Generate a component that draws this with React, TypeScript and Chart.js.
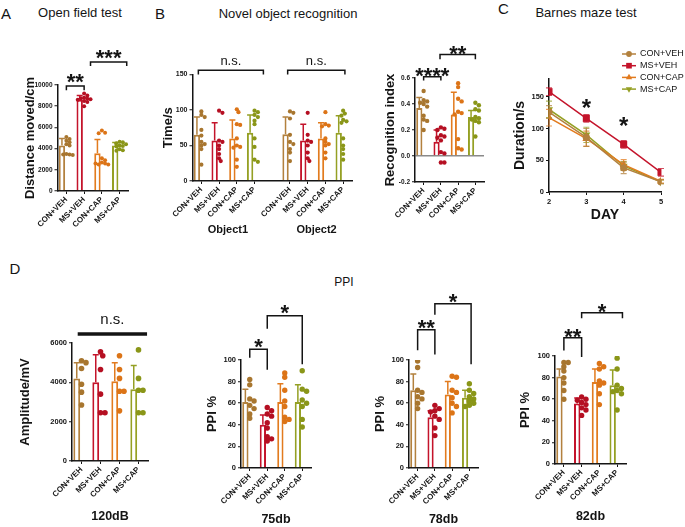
import React, { useEffect, useRef } from "react";
import { Chart, registerables } from "chart.js";

Chart.register(...registerables);

const FONT = 'Arial, "Liberation Sans", Helvetica, sans-serif';
const INK = "#141414";
Chart.defaults.font.family = FONT;
Chart.defaults.color = INK;

/* ====================== DATA ====================== */
const groups = ["CON+VEH", "MS+VEH", "CON+CAP", "MS+CAP"];
const barColors = ["#B3813E", "#C4142B", "#E27B1E", "#95A024"];
const dotColors = ["#A8762F", "#B50F22", "#DC7417", "#8A9618"];

// A — Open field test
const openFieldMean = [4300, 8600, 3550, 4300];
const openFieldSD = [650, 420, 1320, 280];
const openFieldPoints = [
  [5100, 4900, 4750, 4600, 4400, 4300, 3500, 3450, 3450, 3400],
  [9200, 9000, 8800, 8750, 8700, 8650, 8600, 8500, 8400, 8000],
  [5700, 5500, 5450, 3100, 2900, 2700, 2600, 2500, 2500, 2600],
  [4650, 4600, 4500, 4400, 4300, 4250, 4200, 3950, 3850, 3800],
];
const openFieldBrackets = [
  { from: 0, to: 1, y: 9900, legFrom: 9500, legTo: 9500, label: "**" },
  { from: 1.36, to: 3.4, y: 12170, legFrom: 11790, legTo: 11790, label: "***" },
];

// B — Novel object recognition (Time/s)
const objectLabels = [...groups, "", ...groups];
const objectMean = [65, 57, 60, 68, null, 66, 57, 60, 68];
const objectSD = [25, 25, 26, 25, null, 24, 23, 22, 24];
const objectPoints = [
  [98, 93, 90, 72, 64, 55, 52, 50, 45, 23],
  [99, 96, 57, 55, 50, 45, 38, 32, 28],
  [101, 97, 80, 79, 60, 50, 48, 47, 30, 20],
  [99, 97, 93, 90, 85, 80, 60, 48, 30, 27],
  [],
  [98, 96, 88, 65, 55, 52, 45, 40, 28],
  [96, 65, 57, 55, 50, 40, 32, 28],
  [97, 80, 78, 77, 60, 55, 52, 50, 40, 32],
  [99, 95, 92, 86, 84, 82, 60, 50, 45, 38, 30],
];
const objectGroupTitles = [
  { at: 1.5, text: "Object1" },
  { at: 6.5, text: "Object2" },
];
const objectBrackets = [
  { from: -0.17, to: 3.5, y: 156, legFrom: 150, legTo: 150, label: "n.s." },
  { from: 4.87, to: 8.1, y: 156, legFrom: 150, legTo: 150, label: "n.s." },
];

// B — Recognition index
const recogMean = [0.37, 0.11, 0.32, 0.3];
const recogSD = [0.08, 0.09, 0.17, 0.05];
const recogPoints = [
  [0.5, 0.43, 0.42, 0.41, 0.4, 0.38, 0.31, 0.28, 0.27, 0.2],
  [0.22, 0.21, 0.2, 0.16, 0.15, 0.14, 0.12, 0.03, 0.02, -0.05, -0.05],
  [0.56, 0.53, 0.44, 0.42, 0.34, 0.33, 0.32, 0.13, 0.06, 0.05],
  [0.41, 0.39, 0.36, 0.35, 0.3, 0.29, 0.28, 0.27, 0.26, 0.15],
];
const recogBrackets = [
  { from: 0, to: 1, y: 0.61, legFrom: 0.58, legTo: 0.58, label: "****" },
  { from: 0.95, to: 3, y: 0.78, legFrom: 0.745, legTo: 0.745, label: "**" },
];

// C — Barnes maze test
const days = [2, 3, 4, 5];
const barnesMean = [
  [126, 86, 38, 16],
  [158, 116, 75, 31],
  [117, 84, 43, 17],
  [130, 90, 41, 16],
];
const barnesSD = [
  [10, 14, 9, 3],
  [6, 6, 6, 6],
  [13, 12, 8, 3],
  [13, 12, 7, 3],
];
const barnesStars = [
  { x: 3, y: 142, label: "*" },
  { x: 4, y: 114, label: "*" },
];

// D — PPI
const ppi120Mean = [4200, 4000, 4050, 3650];
const ppi120SD = [800, 1400, 950, 1200];
const ppi120Points = [
  [5100, 5000, 4700, 3900, 3500, 2850],
  [5550, 5350, 4650, 3400, 2450, 2450],
  [5350, 4650, 4200, 3550, 3550, 2550],
  [5650, 4200, 3600, 3600, 2450, 2450],
];
const ppi120Brackets = [{ from: -0.2, to: 3.45, y: 6460, legFrom: 6460, legTo: 6460, label: "n.s." }];

const ppi75Mean = [61, 40, 61, 61];
const ppi75SD = [12, 9, 17, 16];
const ppi75Points = [
  [82, 77, 64, 62, 58, 55, 50, 46],
  [56, 53, 50, 48, 42, 37, 29, 27, 25],
  [88, 84, 72, 62, 57, 47, 45, 43],
  [90, 73, 71, 63, 60, 57, 45, 38],
];
const ppi75Brackets = [
  { from: 0, to: 1, y: 110, legFrom: 102, legTo: 91, label: "*" },
  { from: 1, to: 3, y: 141, legFrom: 129, legTo: 96, label: "*" },
];

const ppi78Mean = [72, 47, 68, 65];
const ppi78SD = [15, 6, 12, 7];
const ppi78Points = [
  [99, 93, 72, 70, 66, 64, 60, 55],
  [58, 55, 53, 52, 48, 45, 37, 30],
  [85, 84, 72, 70, 65, 60, 57, 51],
  [78, 72, 69, 66, 64, 62, 60, 58, 57],
];
const ppi78Brackets = [
  { from: 0, to: 1, y: 128, legFrom: 109, legTo: 105, label: "**" },
  { from: 1, to: 3.1, y: 152, legFrom: 142, legTo: 96, label: "*" },
];

const ppi82Mean = [81, 56, 76, 73];
const ppi82SD = [7, 5, 12, 14];
const ppi82Points = [
  [94, 94, 90, 86, 80, 75, 68, 60],
  [62, 60, 59, 57, 55, 52, 50, 45],
  [93, 90, 88, 77, 75, 73, 65, 55],
  [98, 88, 73, 70, 68, 67, 65, 50],
];
const ppi82Brackets = [
  { from: 0, to: 1, y: 117, legFrom: 105, legTo: 99, label: "**" },
  { from: 1, to: 3.3, y: 140, legFrom: 135, legTo: 135, label: "*" },
];

/* ====================== HELPERS ====================== */
type Box = { x: number; y: number; w: number; h: number };
type Plot = { l: number; t: number; r: number; b: number };
type Bracket = { from: number; to: number; y: number; legFrom: number; legTo: number; label: string };
type Mark = { x: number; y: number; label: string };

// compact bee-swarm: horizontal pixel offsets so that dots overlap only a little
function swarm(vals: number[], pxPerUnit: number, r: number): number[] {
  const placed: [number, number][] = [];
  const minD = 1.55 * r;
  const step = 0.8 * r;
  return vals.map((v) => {
    const y = v * pxPerUnit;
    let off = 0;
    for (let k = 0; k < 60; k++) {
      const c = k === 0 ? 0 : (k % 2 ? 1 : -1) * Math.ceil(k / 2) * step;
      if (placed.every(([px, py]) => Math.hypot(px - c, py - y) >= minD)) {
        off = c;
        break;
      }
    }
    placed.push([off, y]);
    return off;
  });
}

function errPlugin(sd: (number | null)[][], width: number, cap: number, before: boolean, upperOnly: boolean, alpha = 1) {
  const draw = (chart: any, args: any) => {
    const s = sd[args.index];
    if (!s) return;
    const meta = args.meta;
    const ys = chart.scales[meta.yAxisID];
    const ds = chart.data.datasets[args.index];
    const ctx = chart.ctx;
    ctx.save();
    ctx.lineWidth = width;
    ctx.globalAlpha = alpha;
    meta.data.forEach((el: any, j: number) => {
      const p = meta.controller.getParsed(j);
      const e = s[j];
      if (!p || p.y == null || isNaN(p.y) || e == null) return;
      const col = Array.isArray(ds.borderColor) ? ds.borderColor[j] : ds.borderColor;
      const x = el.x;
      const y1 = ys.getPixelForValue(p.y + e);
      const y0 = upperOnly ? ys.getPixelForValue(p.y) : ys.getPixelForValue(p.y - e);
      ctx.strokeStyle = col;
      ctx.beginPath();
      ctx.moveTo(x, y0);
      ctx.lineTo(x, y1);
      ctx.moveTo(x - cap, y1);
      ctx.lineTo(x + cap, y1);
      if (!upperOnly) {
        ctx.moveTo(x - cap, y0);
        ctx.lineTo(x + cap, y0);
      }
      ctx.stroke();
    });
    ctx.restore();
  };
  return {
    id: "errs",
    beforeDatasetDraw(chart: any, args: any) {
      if (before) draw(chart, args);
    },
    afterDatasetDraw(chart: any, args: any) {
      if (!before) draw(chart, args);
    },
  };
}

type SigStyle = {
  xAxis: string;
  lineWidth: number;
  starSize: number;
  starGap: number;
  textSize: number;
  textGap: number;
  groupSize?: number;
  groupOffset?: number;
};

function sigPlugin(brackets: Bracket[], marks: Mark[], groupTitles: { at: number; text: string }[], st: SigStyle) {
  const label = (ctx: any, text: string, x: number, cy: number) => {
    const star = text.startsWith("*");
    const size = star ? st.starSize : st.textSize;
    ctx.font = `${star ? "bold " : ""}${size}px ${FONT}`;
    ctx.textAlign = "center";
    ctx.textBaseline = "alphabetic";
    ctx.fillText(text, x, cy + (star ? 0.6 : 0.27) * size);
  };
  return {
    id: "sig",
    afterDraw(chart: any) {
      const xs = chart.scales[st.xAxis];
      const ys = chart.scales.y;
      const ctx = chart.ctx;
      ctx.save();
      ctx.strokeStyle = INK;
      ctx.fillStyle = INK;
      ctx.lineWidth = st.lineWidth;
      ctx.lineCap = "butt";
      ctx.lineJoin = "miter";
      brackets.forEach((b) => {
        const x1 = xs.getPixelForValue(b.from);
        const x2 = xs.getPixelForValue(b.to);
        const y = ys.getPixelForValue(b.y);
        ctx.beginPath();
        ctx.moveTo(x1, ys.getPixelForValue(b.legFrom));
        ctx.lineTo(x1, y);
        ctx.lineTo(x2, y);
        ctx.lineTo(x2, ys.getPixelForValue(b.legTo));
        ctx.stroke();
        const gap = b.label.startsWith("*") ? st.starGap : st.textGap;
        label(ctx, b.label, (x1 + x2) / 2, y - gap);
      });
      marks.forEach((m) => label(ctx, m.label, xs.getPixelForValue(m.x), ys.getPixelForValue(m.y)));
      groupTitles.forEach((g) => {
        ctx.font = `bold ${st.groupSize}px ${FONT}`;
        ctx.textAlign = "center";
        ctx.textBaseline = "middle";
        ctx.fillText(g.text, xs.getPixelForValue(g.at), chart.chartArea.bottom + (st.groupOffset || 0));
      });
      ctx.restore();
    },
  };
}

function frame(box: Box, plot: Plot, yTitleX: number, yTitleSize: number, xTitleY?: number, xTitleSize?: number) {
  const lhY = yTitleSize * 1.2;
  const padLeft = yTitleX - lhY / 2 - box.x;
  const yWidth = plot.l - box.x - padLeft;
  const padTop = plot.t - box.y;
  const padRight = box.x + box.w - plot.r;
  let xHeight = box.y + box.h - plot.b;
  let padBottom = 0;
  if (xTitleY != null && xTitleSize != null) {
    const sb = xTitleY + (xTitleSize * 1.2) / 2;
    xHeight = sb - plot.b;
    padBottom = box.y + box.h - sb;
  }
  return { padding: { left: padLeft, top: padTop, right: padRight, bottom: padBottom }, yWidth, xHeight };
}

interface BarSpec {
  labels: string[];
  means: (number | null)[];
  sds: (number | null)[];
  points: number[][];
  yMin: number;
  yMax: number;
  yStep: number;
  decimals: number;
  yTitle: string;
  xTitle?: string;
  brackets: Bracket[];
  groupTitles?: { at: number; text: string }[];
  zeroLine?: boolean;
  box: Box;
  plot: Plot;
  yTitleX: number;
  yTitleSize: number;
  xTitleY?: number;
  xTitleSize?: number;
  tickSize: number;
  catSize: number;
  dotR: number;
  sig: SigStyle;
}

function buildBar(canvas: HTMLCanvasElement, s: BarSpec): Chart {
  const f = frame(s.box, s.plot, s.yTitleX, s.yTitleSize, s.xTitle ? s.xTitleY : undefined, s.xTitle ? s.xTitleSize : undefined);
  const n = s.labels.length;
  const unitPx = (s.plot.r - s.plot.l) / n;
  const pxPerY = (s.plot.b - s.plot.t) / (s.yMax - s.yMin);
  const colors = s.labels.map((l) => barColors[groups.indexOf(l)] || "#000");
  const dcols = s.labels.map((l) => dotColors[groups.indexOf(l)] || "#000");
  const dots: { x: number; y: number }[] = [];
  const dotCols: string[] = [];
  s.points.forEach((vals, i) => {
    const offs = swarm(vals, pxPerY, s.dotR);
    vals.forEach((v, k) => {
      dots.push({ x: i + offs[k] / unitPx, y: v });
      dotCols.push(dcols[i]);
    });
  });
  const cfg: any = {
    type: "bar",
    data: {
      labels: s.labels,
      datasets: [
        {
          type: "bar",
          data: s.means,
          backgroundColor: "#ffffff",
          borderColor: colors,
          borderWidth: 2,
          barPercentage: 0.72,
          categoryPercentage: 1,
          order: 2,
          xAxisID: "x",
          yAxisID: "y",
        },
        {
          type: "scatter",
          data: dots,
          xAxisID: "xd",
          yAxisID: "y",
          pointRadius: s.dotR,
          pointHoverRadius: s.dotR,
          pointBackgroundColor: dotCols,
          pointBorderColor: dotCols,
          pointBorderWidth: 0,
          showLine: false,
          order: 1,
        },
      ],
    },
    options: {
      responsive: false,
      animation: false,
      events: [],
      layout: { padding: f.padding },
      plugins: { legend: { display: false }, tooltip: { enabled: false } },
      scales: {
        x: {
          type: "category",
          offset: true,
          grid: {
            display: true,
            offset: false,
            drawOnChartArea: false,
            tickLength: 3,
            tickWidth: 1,
            tickColor: (c: any) => (s.labels[c.index] ? INK : "rgba(0,0,0,0)"),
          },
          border: { display: true, color: INK, width: 1.5 },
          ticks: {
            autoSkip: false,
            maxRotation: 45,
            minRotation: 45,
            padding: 1,
            color: INK,
            font: { family: FONT, size: s.catSize, weight: "bold" },
          },
          title: s.xTitle
            ? { display: true, text: s.xTitle, color: INK, padding: 0, font: { family: FONT, size: s.xTitleSize, weight: "bold" } }
            : { display: false },
          afterFit: (sc: any) => {
            sc.height = f.xHeight;
          },
        },
        xd: {
          type: "linear",
          display: false,
          offset: false,
          bounds: "data",
          min: -0.5,
          max: n - 0.5,
          afterBuildTicks: (sc: any) => {
            sc.min = -0.5;
            sc.max = n - 0.5;
          },
        },
        y: {
          type: "linear",
          min: s.yMin,
          max: s.yMax,
          grid: {
            display: true,
            drawOnChartArea: !!s.zeroLine,
            color: (c: any) => (c.tick && Math.abs(c.tick.value) < 1e-9 ? "#8a8a8a" : "rgba(0,0,0,0)"),
            lineWidth: 1.5,
            tickLength: 3,
            tickWidth: 1,
            tickColor: INK,
          },
          border: { display: true, color: INK, width: 1.5 },
          ticks: {
            stepSize: s.yStep,
            padding: 2,
            color: INK,
            font: { family: FONT, size: s.tickSize, weight: "bold" },
            callback: (v: any) => Number(v).toFixed(s.decimals),
          },
          title: { display: true, text: s.yTitle, color: INK, padding: 0, font: { family: FONT, size: s.yTitleSize, weight: "bold" } },
          afterFit: (sc: any) => {
            sc.width = f.yWidth;
          },
        },
      },
    },
    plugins: [errPlugin([s.sds], 1.5, 3, false, true), sigPlugin(s.brackets, [], s.groupTitles || [], s.sig)],
  };
  return new Chart(canvas, cfg);
}

const seriesStyles = [
  { style: "circle", rot: 0, r: 3.6 },
  { style: "rect", rot: 0, r: 5 },
  { style: "triangle", rot: 0, r: 4.6 },
  { style: "triangle", rot: 180, r: 4.6 },
];

function drawMarker(ctx: any, style: string, rot: number, x: number, y: number, r: number) {
  ctx.beginPath();
  if (style === "circle") ctx.arc(x, y, r, 0, Math.PI * 2);
  else if (style === "rect") {
    const h = r * Math.SQRT1_2;
    ctx.rect(x - h, y - h, 2 * h, 2 * h);
  } else {
    let a = (rot * Math.PI) / 180;
    ctx.moveTo(x + Math.sin(a) * r, y - Math.cos(a) * r);
    a += (2 * Math.PI) / 3;
    ctx.lineTo(x + Math.sin(a) * r, y - Math.cos(a) * r);
    a += (2 * Math.PI) / 3;
    ctx.lineTo(x + Math.sin(a) * r, y - Math.cos(a) * r);
    ctx.closePath();
  }
  ctx.fill();
}

function buildBarnes(canvas: HTMLCanvasElement): Chart {
  const box = { x: 498, y: 40, w: 187, h: 187 };
  const plot = { l: 549, t: 79, r: 661, b: 192 };
  const f = frame(box, plot, 520, 14, 215, 14);
  const lg = { x1: 622 - box.x, x2: 636 - box.x, tx: 640 - box.x, y0: 54 - box.y, step: 11.7, size: 9 };
  const legendPlugin = {
    id: "lgd",
    afterDraw(chart: any) {
      const ctx = chart.ctx;
      ctx.save();
      chart.data.datasets.forEach((ds: any, k: number) => {
        const y = lg.y0 + k * lg.step;
        ctx.strokeStyle = ds.borderColor;
        ctx.fillStyle = ds.borderColor;
        ctx.lineWidth = 1.5;
        ctx.beginPath();
        ctx.moveTo(lg.x1, y);
        ctx.lineTo(lg.x2, y);
        ctx.stroke();
        const st = seriesStyles[k];
        drawMarker(ctx, st.style, st.rot, (lg.x1 + lg.x2) / 2, y, st.r * 0.8);
        ctx.fillStyle = INK;
        ctx.font = `${lg.size}px ${FONT}`;
        ctx.textAlign = "left";
        ctx.textBaseline = "middle";
        ctx.fillText(ds.label, lg.tx, y);
      });
      ctx.restore();
    },
  };
  const cfg: any = {
    type: "line",
    data: {
      datasets: groups.map((name, k) => ({
        label: name,
        data: days.map((d, j) => ({ x: d, y: barnesMean[k][j] })),
        borderColor: barColors[k],
        backgroundColor: barColors[k],
        pointBackgroundColor: barColors[k],
        pointBorderColor: barColors[k],
        pointStyle: seriesStyles[k].style,
        pointRotation: seriesStyles[k].rot,
        pointRadius: seriesStyles[k].r,
        pointBorderWidth: 0,
        borderWidth: 1.5,
        tension: 0,
        order: k === 1 ? 0 : 1,
      })),
    },
    options: {
      responsive: false,
      animation: false,
      events: [],
      layout: { padding: f.padding },
      plugins: { legend: { display: false }, tooltip: { enabled: false } },
      scales: {
        x: {
          type: "linear",
          min: 2,
          max: 5,
          grid: { display: true, drawOnChartArea: false, tickLength: 3, tickColor: INK },
          border: { display: true, color: INK, width: 1.5 },
          ticks: { stepSize: 1, padding: 2, color: INK, font: { family: FONT, size: 7.5, weight: "bold" } },
          title: { display: true, text: "DAY", color: INK, padding: 0, font: { family: FONT, size: 14, weight: "bold" } },
          afterFit: (sc: any) => {
            sc.height = f.xHeight;
          },
        },
        y: {
          type: "linear",
          min: 0,
          max: 178,
          grid: { display: true, drawOnChartArea: false, tickLength: 3, tickColor: INK },
          border: { display: true, color: INK, width: 1.5 },
          ticks: { stepSize: 50, includeBounds: false, padding: 2, color: INK, font: { family: FONT, size: 7.5, weight: "bold" } },
          title: { display: true, text: "Duration/s", color: INK, padding: 0, font: { family: FONT, size: 14, weight: "bold" } },
          afterFit: (sc: any) => {
            sc.width = f.yWidth;
          },
        },
      },
    },
    plugins: [
      errPlugin(barnesSD, 1.2, 3, true, false, 0.75),
      sigPlugin([], barnesStars, [], { xAxis: "x", lineWidth: 1.5, starSize: 24, starGap: 0, textSize: 12, textGap: 0 }),
      legendPlugin,
    ],
  };
  return new Chart(canvas, cfg);
}

/* ====================== SPECS (layout) ====================== */
const starStyle = (gap: number): SigStyle => ({ xAxis: "xd", lineWidth: 1.5, starSize: 22, starGap: gap, textSize: 13, textGap: 9 });

const specA: BarSpec = {
  labels: groups,
  means: openFieldMean,
  sds: openFieldSD,
  points: openFieldPoints,
  yMin: 0,
  yMax: 10000,
  yStep: 2000,
  decimals: 0,
  yTitle: "Distance moved/cm",
  brackets: openFieldBrackets,
  box: { x: 8, y: 40, w: 134, h: 212 },
  plot: { l: 57.5, t: 85, r: 128.5, b: 191 },
  yTitleX: 30,
  yTitleSize: 13,
  tickSize: 6.5,
  catSize: 8,
  dotR: 2,
  sig: starStyle(10),
};

const specB: BarSpec = {
  labels: objectLabels,
  means: objectMean,
  sds: objectSD,
  points: objectPoints,
  yMin: 0,
  yMax: 150,
  yStep: 50,
  decimals: 0,
  yTitle: "Time/s",
  brackets: objectBrackets,
  groupTitles: objectGroupTitles,
  box: { x: 150, y: 45, w: 212, h: 200 },
  plot: { l: 192.5, t: 74.5, r: 352, b: 181 },
  yTitleX: 168,
  yTitleSize: 13,
  tickSize: 7,
  catSize: 8,
  dotR: 2.1,
  sig: { xAxis: "xd", lineWidth: 1.5, starSize: 22, starGap: 9, textSize: 13, textGap: 9, groupSize: 11, groupOffset: 49 },
};

const specRecog: BarSpec = {
  labels: groups,
  means: recogMean,
  sds: recogSD,
  points: recogPoints,
  yMin: -0.2,
  yMax: 0.6,
  yStep: 0.2,
  decimals: 1,
  yTitle: "Recognition index",
  brackets: recogBrackets,
  zeroLine: true,
  box: { x: 370, y: 32, w: 122, h: 218 },
  plot: { l: 415, t: 78, r: 484, b: 182 },
  yTitleX: 390,
  yTitleSize: 13,
  tickSize: 6.5,
  catSize: 8,
  dotR: 2.2,
  sig: starStyle(7),
};

const spec120: BarSpec = {
  labels: groups,
  means: ppi120Mean,
  sds: ppi120SD,
  points: ppi120Points,
  yMin: 0,
  yMax: 6000,
  yStep: 2000,
  decimals: 0,
  yTitle: "Amplitude/mV",
  xTitle: "120dB",
  brackets: ppi120Brackets,
  box: { x: 5, y: 300, w: 155, h: 230 },
  plot: { l: 72, t: 343, r: 148, b: 461 },
  yTitleX: 25,
  yTitleSize: 13,
  xTitleY: 517,
  xTitleSize: 12.5,
  tickSize: 7.5,
  catSize: 8,
  dotR: 2.8,
  sig: { xAxis: "xd", lineWidth: 3.5, starSize: 22, starGap: 8, textSize: 15, textGap: 14 },
};

const spec75: BarSpec = {
  labels: groups,
  means: ppi75Mean,
  sds: ppi75SD,
  points: ppi75Points,
  yMin: 0,
  yMax: 100,
  yStep: 20,
  decimals: 0,
  yTitle: "PPI %",
  xTitle: "75db",
  brackets: ppi75Brackets,
  box: { x: 195, y: 290, w: 125, h: 240 },
  plot: { l: 241, t: 360, r: 311, b: 468 },
  yTitleX: 212,
  yTitleSize: 13,
  xTitleY: 520,
  xTitleSize: 12.5,
  tickSize: 7.5,
  catSize: 8,
  dotR: 2.7,
  sig: starStyle(8.5),
};

const spec78: BarSpec = {
  labels: groups,
  means: ppi78Mean,
  sds: ppi78SD,
  points: ppi78Points,
  yMin: 0,
  yMax: 100,
  yStep: 20,
  decimals: 0,
  yTitle: "PPI %",
  xTitle: "78db",
  brackets: ppi78Brackets,
  box: { x: 362, y: 283, w: 125, h: 247 },
  plot: { l: 409, t: 360, r: 478, b: 468 },
  yTitleX: 380,
  yTitleSize: 13,
  xTitleY: 520,
  xTitleSize: 12.5,
  tickSize: 7.5,
  catSize: 8,
  dotR: 2.7,
  sig: starStyle(8),
};

const spec82: BarSpec = {
  labels: groups,
  means: ppi82Mean,
  sds: ppi82SD,
  points: ppi82Points,
  yMin: 0,
  yMax: 100,
  yStep: 20,
  decimals: 0,
  yTitle: "PPI %",
  xTitle: "82db",
  brackets: ppi82Brackets,
  box: { x: 505, y: 288, w: 135, h: 242 },
  plot: { l: 555, t: 356, r: 626, b: 464 },
  yTitleX: 525,
  yTitleSize: 13,
  xTitleY: 517,
  xTitleSize: 12.5,
  tickSize: 7.5,
  catSize: 8,
  dotR: 2.7,
  sig: starStyle(7),
};

/* ====================== COMPONENTS ====================== */
function ChartBox({ box, build }: { box: Box; build: (c: HTMLCanvasElement) => Chart }) {
  const ref = useRef<HTMLCanvasElement | null>(null);
  useEffect(() => {
    const chart = build(ref.current as HTMLCanvasElement);
    return () => chart.destroy();
  }, []);
  return (
    <canvas
      ref={ref}
      width={box.w}
      height={box.h}
      style={{ position: "absolute", left: box.x, top: box.y, width: box.w, height: box.h }}
    />
  );
}

function Txt({ x, y, size, weight = 400, children }: { x: number; y: number; size: number; weight?: number; children: React.ReactNode }) {
  return (
    <div
      style={{
        position: "absolute",
        left: x,
        top: y,
        transform: "translate(-50%, -50%)",
        fontSize: size,
        fontWeight: weight,
        lineHeight: 1,
        whiteSpace: "nowrap",
        fontFamily: FONT,
        color: INK,
      }}
    >
      {children}
    </div>
  );
}

export default function App() {
  const barSpecs = [specA, specB, specRecog, spec120, spec75, spec78, spec82];
  return (
    <div
      style={{
        position: "fixed",
        left: 0,
        top: 0,
        width: 685,
        height: 527,
        background: "#ffffff",
        overflow: "hidden",
      }}
    >
      <Txt x={6} y={13} size={15}>A</Txt>
      <Txt x={80} y={12} size={13}>Open field test</Txt>
      <Txt x={160} y={12.5} size={15}>B</Txt>
      <Txt x={288} y={12.5} size={13}>Novel object recognition</Txt>
      <Txt x={503.5} y={8} size={15}>C</Txt>
      <Txt x={586} y={11.5} size={13}>Barnes maze test</Txt>
      <Txt x={15} y={268} size={15}>D</Txt>
      <Txt x={344} y={282} size={12}>PPI</Txt>
      {barSpecs.map((s, i) => (
        <ChartBox key={i} box={s.box} build={(c) => buildBar(c, s)} />
      ))}
      <ChartBox box={{ x: 498, y: 40, w: 187, h: 187 }} build={buildBarnes} />
    </div>
  );
}
